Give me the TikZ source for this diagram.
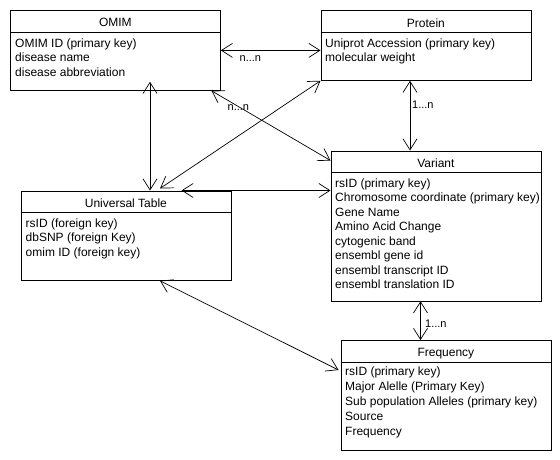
\documentclass[tikz,border=0pt]{standalone}
\usepackage{fontspec}
\setmainfont{Liberation Sans}
\usetikzlibrary{arrows.meta}
\begin{document}
\begin{tikzpicture}[x=1pt,y=-1pt,
  ent/.style={draw, line width=0.8pt, minimum width=210pt, inner sep=0pt, anchor=north west},
  hdr/.style={line width=0.8pt},
  ttl/.style={anchor=base, font=\fontsize{12}{14}\selectfont, inner sep=0pt},
  fld/.style={anchor=base west, font=\fontsize{12}{14}\selectfont, inner sep=0pt},
  lbl/.style={anchor=base west, font=\fontsize{11}{13}\selectfont, inner sep=0pt},
  rel/.style={line width=0.7pt, {Straight Barb[length=11pt,width=14pt]}-{Straight Barb[length=11pt,width=14pt]}}
]
\useasboundingbox (0,0) rectangle (560,460);

% entities
\node[ent, minimum height=80pt] (omim) at (10,10) {};
\node[ent, minimum height=69.5pt] (protein) at (320.5,10.5) {};
\node[ent, minimum height=89.5pt] (univ) at (20.5,190.5) {};
\node[ent, minimum height=150pt] (variant) at (330.5,150.5) {};
\node[ent, minimum height=110pt] (freq) at (340.5,340) {};

% header lines
\foreach \b in {omim,protein,univ,variant,freq}
  \draw[hdr] ([yshift=-22pt]\b.north west) -- ([yshift=-22pt]\b.north east);

% titles
\node[ttl] (omimT) at ([yshift=-17pt]omim.north) {OMIM};
\node[ttl] (proteinT) at ([yshift=-17pt]protein.north) {Protein};
\node[ttl] (univT) at ([yshift=-16.5pt]univ.north) {Universal Table};
\node[ttl] (variantT) at ([yshift=-16.8pt]variant.north) {Variant};
\node[ttl] (freqT) at ([yshift=-16.5pt]freq.north) {Frequency};

% fields
\foreach \t [count=\i] in {{OMIM ID (primary key)},{disease name},{disease abbreviation}}
  \node[fld] (omimF\i) at ([xshift=5pt,yshift={-37.3pt-(\i-1)*14.4pt}]omim.north west) {\t};
\foreach \t [count=\i] in {{Uniprot Accession (primary key)},{molecular weight}}
  \node[fld] (proteinF\i) at ([xshift=4.5pt,yshift={-36.8pt-(\i-1)*14.4pt}]protein.north west) {\t};
\foreach \t [count=\i] in {{rsID (foreign key)},{dbSNP (foreign Key)},{omim ID (foreign key)}}
  \node[fld] (univF\i) at ([xshift=5pt,yshift={-36.8pt-(\i-1)*14.4pt}]univ.north west) {\t};
\foreach \t [count=\i] in {{rsID (primary key)},{Chromosome coordinate (primary key)},{Gene Name},{Amino Acid Change},{cytogenic band},{ensembl gene id},{ensembl transcript ID},{ensembl translation ID}}
  \node[fld] (variantF\i) at ([xshift=4.5pt,yshift={-36.8pt-(\i-1)*14.5pt}]variant.north west) {\t};
\foreach \t [count=\i] in {{rsID (primary key)},{Major Alelle (Primary Key)},{Sub population Alleles (primary key)},{Source},{Frequency}}
  \node[fld] (freqF\i) at ([xshift=4.5pt,yshift={-35pt-(\i-1)*15.2pt}]freq.north west) {\t};

% connector end points
\coordinate (c2a) at ([xshift=140pt,yshift=9pt]omim.south west);
\coordinate (c2b) at ([xshift=129.5pt]univ.north west);
\coordinate (c3a) at ([xshift=-9.3pt]omim.south east);
\coordinate (c3b) at ([yshift=-10pt]variant.north west);
\coordinate (c4b) at ([xshift=139.5pt,yshift=2pt]univ.north west);
\coordinate (c5a) at ([xshift=161pt]univ.north west);
\coordinate (c6a) at ([xshift=89.5pt]protein.south west);
\coordinate (c7a) at ([xshift=90pt]variant.south west);
\coordinate (c8a) at ([xshift=139.5pt]univ.south west);
\coordinate (c8b) at ([xshift=-2pt,yshift=-30pt]freq.north west);

% connectors
\draw[rel] (omim.east) -- (omim.east -| protein.west);
\draw[rel] (c2a) -- (c2b);
\draw[rel] (c3a) -- (c3b);
\draw[rel] (protein.south west) -- (c4b);
\draw[rel] (c5a) -- (c5a -| variant.west);
\draw[rel] (c6a) -- (c6a |- variant.north);
\draw[rel] (c7a) -- (c7a |- freq.north);
\draw[rel] (c8a) -- (c8b);

% labels
\node[lbl] (l1) at (239.5,62) {n...n};
\node[lbl] (l2) at (227.5,110.5) {n...n};
\node[lbl] (l3) at (412,108) {1...n};
\node[lbl] (l4) at (425,327.5) {1...n};
\end{tikzpicture}
\end{document}
